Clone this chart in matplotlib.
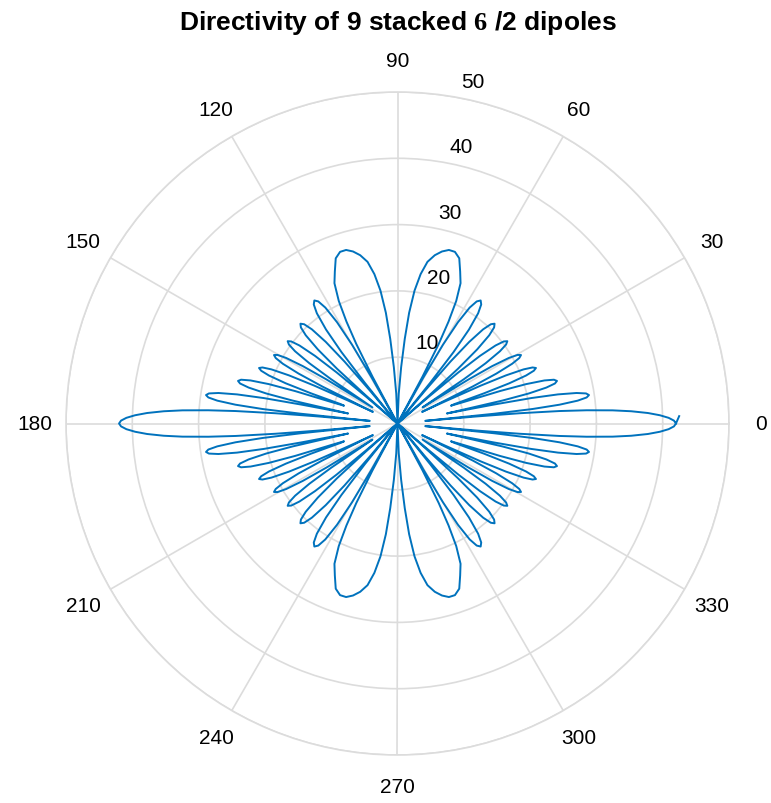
import numpy as np
import matplotlib
matplotlib.use("Agg")
import matplotlib.pyplot as plt

# Directivity in the first quadrant (angle in degrees, radius in plot units);
# the pattern is symmetric about both the horizontal and the vertical axis.
theta_q1 = [
    # main beam
    0, 0.6, 1.2, 1.8, 2.4, 3.0, 3.5, 4.0, 4.4, 4.8, 5.1, 5.4,
    # side lobes
    5.77, 6.13, 6.62, 7.23, 7.84, 8.45, 9.06, 9.67, 10.28, 10.77, 11.13, 11.5,
    11.91, 12.33, 12.88, 13.57, 14.26, 14.95, 15.64, 16.33, 17.02, 17.57, 17.99, 18.4,
    18.81, 19.23, 19.78, 20.47, 21.16, 21.85, 22.54, 23.23, 23.92, 24.47, 24.89, 25.3,
    25.74, 26.19, 26.78, 27.52, 28.26, 29.0, 29.74, 30.48, 31.22, 31.81, 32.26, 32.7,
    33.20, 33.70, 34.36, 35.19, 36.02, 36.85, 37.68, 38.51, 39.34, 40.00, 40.50, 41.0,
    41.58, 42.15, 42.92, 43.88, 44.84, 45.80, 46.76, 47.72, 48.68, 49.45, 50.02, 50.6,
    51.24, 51.88, 52.74, 53.81, 54.88, 55.95, 57.02, 58.09, 59.16, 60.02, 60.66, 61.3,
    # lobe next to the vertical
    61.9, 62.6, 63.4, 64.4, 65.8, 67.6, 69.5, 71.5, 73.5, 75.5, 77.5, 79.5,
    81.2, 82.7, 84.0, 85.1, 86.3, 87.6, 90.0,
]
r_q1 = [
    42.0, 41.7, 40.9, 39.6, 37.8, 35.3, 32.5, 28.6, 24.5, 18.5, 12.0, 4.2,
    14.7, 20.5, 24.6, 27.4, 28.8, 29.2, 28.8, 27.4, 24.6, 20.5, 14.7, 7.6,
    10.4, 16.2, 20.3, 23.1, 24.5, 24.9, 24.5, 23.1, 20.3, 16.2, 10.4, 8.5,
    9.0, 13.8, 17.9, 20.7, 22.05, 22.5, 22.05, 20.7, 17.9, 13.8, 8.0, 4.1,
    6.8, 12.6, 16.7, 19.5, 20.85, 21.3, 20.85, 19.5, 16.7, 12.6, 6.8, 4.5,
    6.2, 12.0, 16.1, 18.9, 20.25, 20.7, 20.25, 18.9, 16.1, 12.0, 6.2, 0.0,
    6.5, 12.3, 16.4, 19.2, 20.55, 21.0, 20.55, 19.2, 16.4, 12.3, 6.5, 0.0,
    7.9, 13.7, 17.8, 20.6, 21.95, 22.4, 21.95, 20.6, 17.8, 13.7, 7.9, 0.0,
    8.0, 13.5, 17.2, 20.5, 23.2, 24.8, 26.6, 27.3, 27.3, 26.8, 26.0, 24.8,
    22.8, 20.2, 16.8, 12.8, 8.5, 4.5, 0.0,
]
# closing stroke at the end of the sweep
theta_end = [1.5]
r_end = [42.5]

r_ticks = [10, 20, 30, 40, 50]
theta_ticks = list(range(0, 360, 30))

LINE = "#0072BD"
GRID = "#dcdcdc"
FONT = "Liberation Sans"

# assemble the full sweep 0..360 from the quadrant using the symmetry
tq = np.array(theta_q1, dtype=float)
rq = np.array(r_q1, dtype=float)
theta_all = np.concatenate([tq, 180 - tq[::-1][1:], 180 + tq[1:], 360 - tq[::-1][1:], theta_end])
r_all = np.concatenate([rq, rq[::-1][1:], rq[1:], rq[::-1][1:], r_end])

W, H = 771, 804
cx, cy, R = 397.5, 424.5, 331.5
fig = plt.figure(figsize=(W / 100, H / 100), dpi=100)
ax = fig.add_axes([(cx - R) / W, (H - cy - R) / H, 2 * R / W, 2 * R / H], projection="polar")
ax.set_ylim(0, 50)
ax.set_xticks(np.radians(theta_ticks))
ax.set_xticklabels([])
ax.set_yticks(r_ticks)
ax.set_yticklabels([])
ax.grid(True, color=GRID, lw=1.2)
ax.spines["polar"].set_color(GRID)
ax.spines["polar"].set_linewidth(1.2)
ax.tick_params(length=0)

ax.plot(np.radians(theta_all), r_all, color=LINE, lw=1.4, clip_on=False)

# angle labels outside the outer ring
for t in theta_ticks:
    ax.text(np.radians(t), 50 * 363 / R, str(t), ha="center", va="center",
            fontsize=15, family=FONT, clip_on=False)

# radius labels next to the 80 degree direction
for rv in r_ticks:
    ax.annotate(str(rv), xy=(np.radians(80), rv), xytext=(18, 15.5),
                textcoords="offset pixels", ha="center", va="center",
                fontsize=15, family=FONT, annotation_clip=False)

plt.rcParams["mathtext.fontset"] = "custom"
plt.rcParams["mathtext.bf"] = "Liberation Serif:bold"
fig.text(cx / W, 1 - 23 / H, r"Directivity of 9 stacked $\mathbf{6}$ /2 dipoles",
         ha="center", va="center", fontsize=19, fontweight="bold", family=FONT)

fig.savefig("out.png", dpi=100)
